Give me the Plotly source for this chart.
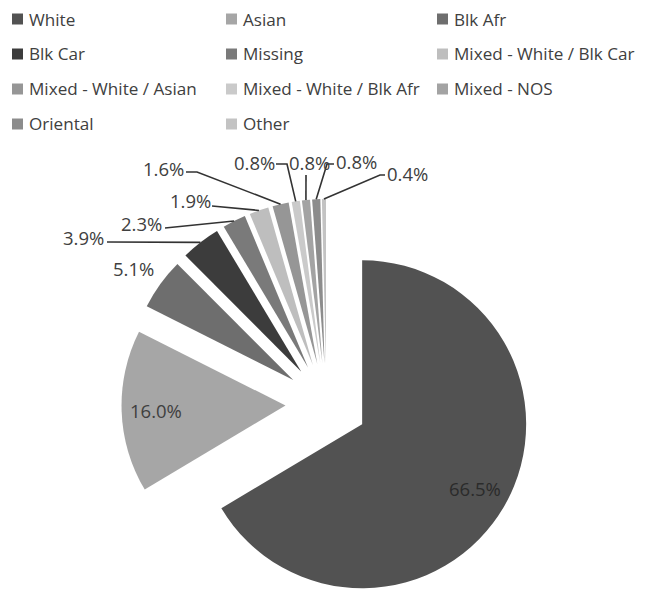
import math
import plotly.graph_objects as go

# ---------------- data ----------------
categories = ["White", "Asian", "Blk Afr", "Blk Car", "Missing",
              "Mixed - White / Blk Car", "Mixed - White / Asian",
              "Mixed - White / Blk Afr", "Mixed - NOS", "Oriental", "Other"]
percentages = [66.5, 16.0, 5.1, 3.9, 2.3, 1.9, 1.6, 0.8, 0.8, 0.8, 0.4]

# ---------------- style ----------------
colors = ["#525252", "#a6a6a6", "#6e6e6e", "#3c3c3c", "#7a7a7a", "#bebebe",
          "#969696", "#cacaca", "#a3a3a3", "#8c8c8c", "#c3c3c3"]

PAGE_OFF = 8               # default body margin of the html page
W, H = 646 - PAGE_OFF, 590 - PAGE_OFF
CX, CY = 326.5, 404.0      # pie centre (page px)
R = 164.0                  # slice radius (px)
PULL_PX = 41.0             # explosion distance (px)
FONT = "Open Sans"
LABEL_COLOR = "#404040"
LEGEND_COL_X = [12, 226, 437]
LEGEND_ROW_Y0, LEGEND_ROW_DY = 19, 35


def xp(x):
    return (x - PAGE_OFF) / W


def yp(y):
    return 1 - (y - PAGE_OFF) / H


total = sum(percentages)
mids = []
cum = 0.0
for v in percentages:
    mids.append((cum + v / 2) / total * 2 * math.pi)
    cum += v

fig = go.Figure()

apexes = []
for i, cat in enumerate(categories):
    a = mids[i]
    ax = CX + PULL_PX * math.sin(a)
    ay = CY - PULL_PX * math.cos(a)
    apexes.append((ax, ay))
    slice_colors = [colors[j] if j == i else "rgba(0,0,0,0)" for j in range(len(categories))]
    fig.add_trace(go.Pie(
        labels=categories, values=percentages, sort=False,
        direction="clockwise", rotation=0,
        marker=dict(colors=slice_colors, line=dict(width=0)),
        textinfo="none", hoverinfo="skip", showlegend=False,
        domain=dict(x=[max(0, xp(ax - R)), min(1, xp(ax + R))],
                    y=[max(0, yp(ay + R)), min(1, yp(ay - R))]),
    ))

annotations = []
shapes = []

# inside labels
for i, col in [(0, "#2b2b2b"), (1, LABEL_COLOR)]:
    a = mids[i]
    ax, ay = apexes[i]
    lx = ax + 0.79 * R * math.sin(a)
    ly = ay - 0.79 * R * math.cos(a)
    annotations.append(dict(x=xp(lx), y=yp(ly), xref="paper", yref="paper",
                            xanchor="center", yanchor="middle",
                            text=f"{percentages[i]:.1f}%", showarrow=False,
                            font=dict(family=FONT, size=18.5, color=col)))

# outside labels with leader lines (label centre, leader start / elbow in page px)
OUTSIDE = {
    2: ((133, 268), None),
    3: ((83, 238), [(107, 242)]),
    4: ((141, 223), [(165, 228)]),
    5: ((190, 201), [(212, 206)]),
    6: ((163, 168), [(186, 172), (197, 172)]),
    7: ((254, 163), [(276, 164), (287, 164)]),
    8: ((309, 163), [(306, 175)]),
    9: ((356, 162), [(334, 164), (327, 164)]),
    10: ((407, 173), [(385, 175), (380, 175)]),
}
for i, (pos, pts) in OUTSIDE.items():
    annotations.append(dict(x=xp(pos[0]), y=yp(pos[1]), xref="paper", yref="paper",
                            xanchor="center", yanchor="middle",
                            text=f"{percentages[i]:.1f}%", showarrow=False,
                            font=dict(family=FONT, size=18.5, color=LABEL_COLOR)))
    if pts:
        a = mids[i]
        ex = CX + (PULL_PX + R) * math.sin(a)
        ey = CY - (PULL_PX + R) * math.cos(a)
        allpts = pts + [(ex, ey)]
        path = "M " + " L ".join(f"{xp(x):.5f},{yp(y):.5f}" for x, y in allpts)
        shapes.append(dict(type="path", path=path, xref="paper", yref="paper",
                           line=dict(color="#333333", width=1.6)))

# legend (3 columns)
for k, cat in enumerate(categories):
    row, col = divmod(k, 3)
    sx = LEGEND_COL_X[col]
    cy = LEGEND_ROW_Y0 + LEGEND_ROW_DY * row
    shapes.append(dict(type="rect", xref="paper", yref="paper",
                       x0=xp(sx), x1=xp(sx + 11), y0=yp(cy + 5.5), y1=yp(cy - 5.5),
                       fillcolor=colors[k], line=dict(width=0)))
    annotations.append(dict(x=xp(sx + 15), y=yp(cy), xref="paper", yref="paper",
                            xanchor="left", yanchor="middle", text=cat, showarrow=False,
                            font=dict(family=FONT, size=17.1, color=LABEL_COLOR)))

fig.update_layout(
    width=W, height=H,
    margin=dict(l=0, r=0, t=0, b=0),
    paper_bgcolor="white", plot_bgcolor="white",
    showlegend=False,
    annotations=annotations, shapes=shapes,
)

fig.write_html("out.html")
